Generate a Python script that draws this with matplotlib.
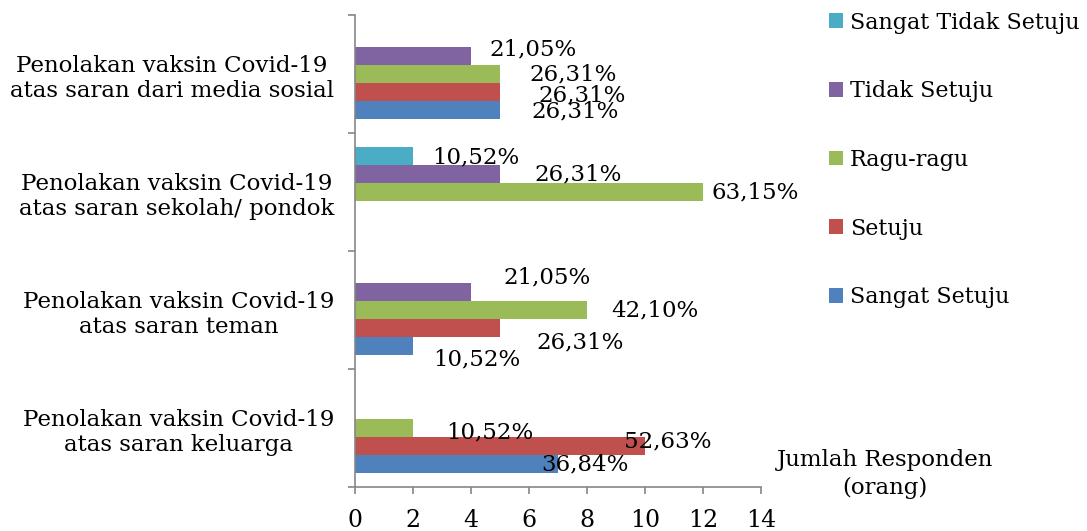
import numpy as np
import matplotlib.pyplot as plt
from matplotlib.ticker import FixedLocator

# categories, bottom to top
categories = [
    "Penolakan vaksin Covid-19\natas saran keluarga",
    "Penolakan vaksin Covid-19\natas saran teman",
    "Penolakan vaksin Covid-19\natas saran sekolah/ pondok",
    "Penolakan vaksin Covid-19\natas saran dari media sosial",
]
series = ["Sangat Setuju", "Setuju", "Ragu-ragu", "Tidak Setuju", "Sangat Tidak Setuju"]
colors = ["#4F81BD", "#C0504D", "#9BBB59", "#8064A2", "#4BACC6"]

# jumlah responden (orang) per series, one value per category
sangat_setuju = [7, 2, 0, 5]
setuju = [10, 5, 0, 5]
ragu_ragu = [2, 8, 12, 5]
tidak_setuju = [0, 4, 5, 4]
sangat_tidak_setuju = [0, 0, 2, 0]

pct_sangat_setuju = ["36,84%", "10,52%", None, "26,31%"]
pct_setuju = ["52,63%", "26,31%", None, "26,31%"]
pct_ragu_ragu = ["10,52%", "42,10%", "63,15%", "26,31%"]
pct_tidak_setuju = [None, "21,05%", "26,31%", "21,05%"]
pct_sangat_tidak_setuju = [None, None, "10,52%", None]

values = [sangat_setuju, setuju, ragu_ragu, tidak_setuju, sangat_tidak_setuju]
pcts = [pct_sangat_setuju, pct_setuju, pct_ragu_ragu, pct_tidak_setuju,
        pct_sangat_tidak_setuju]

# label offsets from bar end (pixels)
offsets = [
    [(27, -1), (64, -14), None, (75, -2)],
    [(23, 4), (80, -15), None, (82, -4)],
    [(77, -4), (68, 0), (52, 0), (73, 0)],
    [None, (76, 15), (78, 0), (62, 7)],
    [None, None, (63, -1), None],
]

plt.rcParams['font.family'] = ['DejaVu Serif']
fs = 16.5
axc = '#868686'

fig = plt.figure(figsize=(10.87, 5.31), dpi=100)
ax = fig.add_axes([355 / 1087, 1 - 487 / 531, 406 / 1087, 472 / 531])

y = np.arange(len(categories))
h = 0.152
bars = []
for i, (vals, c) in enumerate(zip(values, colors)):
    pos = y + (i - 2) * h
    b = ax.barh(pos, vals, height=h, color=c, label=series[i], zorder=2)
    bars.append(b)
    for j in range(len(categories)):
        if pcts[i][j] is None:
            continue
        ax.annotate(pcts[i][j], (vals[j], pos[j]), xytext=offsets[i][j],
                    textcoords='offset pixels', ha='center', va='center',
                    fontsize=fs, zorder=3)

ax.set_xlim(0, 14)
ax.set_ylim(-0.5, 3.5)
ax.set_xticks(np.arange(0, 15, 2))
ax.set_yticks(y)
ax.set_yticklabels(categories, ha='right', ma='center', fontsize=fs,
                   linespacing=1.2)
ax.yaxis.set_minor_locator(FixedLocator(np.arange(-0.5, 4, 1)))
ax.tick_params(axis='y', which='major', length=0, pad=15)
ax.tick_params(axis='y', which='minor', length=5, color=axc, width=1.2)
ax.tick_params(axis='x', length=5, color=axc, width=1.2, labelsize=fs + 0.5, pad=11)
for s in ['top', 'right']:
    ax.spines[s].set_visible(False)
for s in ['left', 'bottom']:
    ax.spines[s].set_color(axc)
    ax.spines[s].set_linewidth(1.2)

fig.text(885 / 1087, 1 - 474 / 531, "Jumlah Responden\n(orang)", ha='center',
         va='center', fontsize=fs, linespacing=1.4)

leg = fig.legend(bars[::-1], series[::-1], loc='upper left',
                 bbox_to_anchor=(809 / 1087, 1.016), frameon=False,
                 fontsize=16, labelspacing=2.1, handlelength=0.65,
                 handleheight=0.65, handletextpad=0.3)

fig.savefig('out.png', dpi=100)
